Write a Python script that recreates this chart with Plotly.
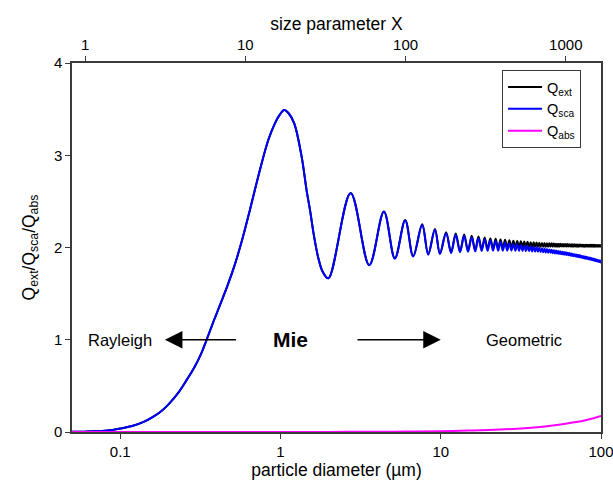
import numpy as np
import plotly.graph_objects as go

# ---------------- data ----------------
# particle diameter (µm) for the Q_ext / Q_sca curves
d_main = [0.05, 0.06, 0.07, 0.08, 0.09, 0.1, 0.12, 0.14, 0.16, 0.18, 0.2, 0.23, 0.26,
          0.288, 0.32, 0.346, 0.385, 0.42, 0.47, 0.52, 0.58, 0.645, 0.744, 0.839, 0.923,
          0.99, 1.055, 1.13, 1.218, 1.355, 1.455, 1.527, 1.62, 1.72, 1.83,
          1.99, 2.74, 3.58, 4.42, 5.17, 6.0, 6.73, 7.66, 8.35, 9.2, 9.88,
          10.8, 11.6, 12.4, 13.2, 14.0, 14.8, 15.6, 16.4, 17.2, 18.0, 18.8, 19.6,
          20.4, 21.2, 22.0, 22.8, 23.6, 24.4, 25.2, 26.0, 26.8, 27.6, 28.4, 29.2,
          30.0, 30.8, 31.6, 32.4, 33.2, 34.0, 34.8, 35.6, 36.4, 37.2, 38.0, 38.8,
          39.6, 40.4, 41.2, 42.0, 42.8, 43.6, 44.4, 45.2, 46.0, 46.8, 47.6, 48.4,
          49.2, 50.0, 50.8, 51.6, 52.4, 53.2, 54.0, 54.8, 55.6, 56.4, 57.2, 58.0,
          58.8, 59.6, 60.4, 61.2, 62.0, 62.8, 63.6, 64.4, 65.2, 66.0, 66.8, 67.6,
          68.4, 69.2, 70.0, 70.8, 71.6, 72.4, 73.2, 74.0, 74.8, 75.6, 76.4, 77.2,
          78.0, 78.8, 79.6, 80.4, 81.2, 82.0, 82.8, 83.6, 84.4, 85.2, 86.0, 86.8,
          87.6, 88.4, 89.2, 90.0, 90.8, 91.6, 92.4, 93.2, 94.0, 94.8, 95.6, 96.4,
          97.2, 98.0, 98.8, 99.6, 100.0]

q_ext = [0.002, 0.004, 0.007, 0.014, 0.023, 0.037, 0.067, 0.109, 0.163, 0.225, 0.30, 0.424, 0.565,
         0.69, 0.85, 1.0, 1.214, 1.38, 1.6, 1.82, 2.1, 2.41, 2.84, 3.165, 3.346,
         3.44, 3.49, 3.45, 3.346, 2.985, 2.62, 2.41, 2.12, 1.89, 1.74,
         1.666, 2.59, 1.81, 2.39, 1.883, 2.298, 1.908, 2.251, 1.93, 2.20, 1.937,
         2.165, 1.951, 2.151, 1.960, 2.140, 1.968, 2.128, 1.975, 2.118, 1.981, 2.109, 1.985,
         2.101, 1.989, 2.094, 1.991, 2.088, 1.994, 2.083, 1.996, 2.078, 1.999, 2.073, 2.001,
         2.070, 2.002, 2.067, 2.003, 2.064, 2.004, 2.061, 2.005, 2.058, 2.005, 2.056, 2.007,
         2.054, 2.007, 2.052, 2.007, 2.050, 2.008, 2.048, 2.008, 2.047, 2.008, 2.045, 2.009,
         2.045, 2.009, 2.043, 2.009, 2.042, 2.009, 2.041, 2.009, 2.040, 2.010, 2.039, 2.009,
         2.038, 2.010, 2.038, 2.009, 2.037, 2.010, 2.036, 2.010, 2.035, 2.009, 2.035, 2.010,
         2.034, 2.010, 2.033, 2.009, 2.033, 2.009, 2.033, 2.010, 2.032, 2.010, 2.031, 2.009,
         2.031, 2.009, 2.031, 2.009, 2.031, 2.010, 2.030, 2.010, 2.030, 2.010, 2.030, 2.010,
         2.030, 2.010, 2.029, 2.009, 2.029, 2.009, 2.028, 2.010, 2.028, 2.010, 2.028, 2.010,
         2.028, 2.010, 2.028, 2.010, 2.019]

q_sca = [0.002, 0.004, 0.007, 0.014, 0.023, 0.037, 0.067, 0.109, 0.163, 0.225, 0.30, 0.424, 0.565,
         0.69, 0.85, 1.0, 1.214, 1.38, 1.6, 1.82, 2.1, 2.41, 2.84, 3.165, 3.346,
         3.44, 3.49, 3.45, 3.346, 2.985, 2.62, 2.41, 2.12, 1.89, 1.74,
         1.666, 2.588, 1.808, 2.387, 1.879, 2.293, 1.902, 2.244, 1.922, 2.192, 1.928,
         2.155, 1.940, 2.139, 1.948, 2.127, 1.954, 2.112, 1.958, 2.100, 1.962, 2.089, 1.964,
         2.079, 1.966, 2.070, 1.966, 2.061, 1.966, 2.054, 1.966, 2.047, 1.967, 2.039, 1.966,
         2.034, 1.965, 2.028, 1.963, 2.023, 1.961, 2.017, 1.960, 2.011, 1.957, 2.007, 1.956,
         2.002, 1.954, 1.997, 1.951, 1.992, 1.949, 1.988, 1.946, 1.984, 1.943, 1.979, 1.942,
         1.976, 1.939, 1.971, 1.936, 1.967, 1.933, 1.963, 1.930, 1.959, 1.928, 1.955, 1.924,
         1.951, 1.922, 1.948, 1.918, 1.944, 1.915, 1.940, 1.912, 1.936, 1.908, 1.933, 1.906,
         1.928, 1.903, 1.924, 1.899, 1.921, 1.895, 1.918, 1.893, 1.913, 1.890, 1.909, 1.885,
         1.906, 1.882, 1.902, 1.879, 1.899, 1.876, 1.895, 1.873, 1.891, 1.870, 1.888, 1.866,
         1.884, 1.863, 1.880, 1.858, 1.877, 1.855, 1.872, 1.852, 1.869, 1.849, 1.865, 1.845,
         1.861, 1.842, 1.858, 1.838, 1.846]

d_abs = [0.05, 0.1, 0.2, 0.5, 1, 2, 3, 5, 7, 10, 15, 20, 30, 40, 50, 60, 70, 80, 90, 100]
q_abs = [0.0, 0.0001, 0.0002, 0.0003, 0.0005, 0.001, 0.002, 0.0035, 0.0055, 0.009, 0.015,
         0.021, 0.036, 0.052, 0.070, 0.089, 0.108, 0.128, 0.150, 0.173]

bottom_ticks = [0.1, 1, 10, 100]
bottom_ticktext = ["0.1", "1", "10", "100"]
top_ticks = [1, 10, 100, 1000]
top_ticktext = ["1", "10", "100", "1000"]
x_range_diam = [0.05, 100]
x_range_size = [0.829, 1658]
y_ticks = [0, 1, 2, 3, 4]

# ---------------- figure ----------------
FONT = "Liberation Sans, Arial, sans-serif"
AX = "#3a3a3a"

fig = go.Figure()
fig.add_trace(go.Scatter(x=d_main, y=q_ext, mode="lines", name="Q<sub>ext</sub>",
                         line=dict(color="#000000", width=2, shape="spline", smoothing=1)))
fig.add_trace(go.Scatter(x=d_main, y=q_sca, mode="lines", name="Q<sub>sca</sub>",
                         line=dict(color="#0000ff", width=2, shape="spline", smoothing=1)))
fig.add_trace(go.Scatter(x=d_abs, y=q_abs, mode="lines", name="Q<sub>abs</sub>",
                         line=dict(color="#ff00ff", width=2, shape="spline", smoothing=1)))
# invisible trace to carry the top (size parameter) axis
fig.add_trace(go.Scatter(x=x_range_size, y=[None, None], xaxis="x2", mode="lines",
                         showlegend=False, hoverinfo="skip"))

axis_common = dict(showline=True, linecolor=AX, linewidth=1.5, ticks="outside",
                   ticklen=5, tickwidth=1.2, tickcolor=AX, showgrid=False, zeroline=False,
                   ticklabeloverflow="allow",
                   tickfont=dict(family=FONT, size=15, color="#000"))

fig.update_layout(
    width=613, height=487,
    margin=dict(l=72, r=12, t=63, b=55),
    paper_bgcolor="white", plot_bgcolor="white",
    font=dict(family=FONT, color="#000"),
    xaxis=dict(type="log", range=[np.log10(x_range_diam[0]), np.log10(x_range_diam[1])],
               tickvals=bottom_ticks, ticktext=bottom_ticktext, automargin="height",
               title=dict(text="particle diameter (µm)", font=dict(family=FONT, size=17.5),
                          standoff=1),
               **axis_common),
    xaxis2=dict(type="log", overlaying="x", side="top", anchor="y", automargin="height",
                range=[np.log10(x_range_size[0]), np.log10(x_range_size[1])],
                tickvals=top_ticks, ticktext=top_ticktext,
                title=dict(text="size parameter X", font=dict(family=FONT, size=17.5),
                           standoff=1),
                **axis_common),
    yaxis=dict(range=[0, 4], tickvals=y_ticks, mirror=True, automargin=False,
               title=dict(text="Q<sub>ext</sub>/Q<sub>sca</sub>/Q<sub>abs</sub>",
                          font=dict(family=FONT, size=17.5), standoff=14),
               **axis_common),
    legend=dict(x=0.813, y=0.981, xanchor="left", yanchor="top",
                bordercolor=AX, borderwidth=1, bgcolor="white", itemwidth=34,
                font=dict(family=FONT, size=14.5), tracegroupgap=0),
    showlegend=True,
)

# regime labels and arrows
lx = np.log10
fig.add_annotation(x=lx(0.1), y=1.0, text="Rayleigh", showarrow=False,
                   font=dict(family=FONT, size=16.5))
fig.add_annotation(x=lx(1.15), y=1.0, text="<b>Mie</b>", showarrow=False,
                   font=dict(family=FONT, size=21))
fig.add_annotation(x=lx(33), y=1.0, text="Geometric", showarrow=False,
                   font=dict(family=FONT, size=16.5))
fig.add_annotation(x=lx(0.19), y=1.0, ax=lx(0.54), ay=1.0, axref="x", ayref="y",
                   text="", showarrow=True, arrowhead=2, arrowsize=2.5, arrowwidth=1.4,
                   arrowcolor="#000")
fig.add_annotation(x=lx(10.0), y=1.0, ax=lx(2.96), ay=1.0, axref="x", ayref="y",
                   text="", showarrow=True, arrowhead=2, arrowsize=2.5, arrowwidth=1.4,
                   arrowcolor="#000")

fig.write_html("out.html")
